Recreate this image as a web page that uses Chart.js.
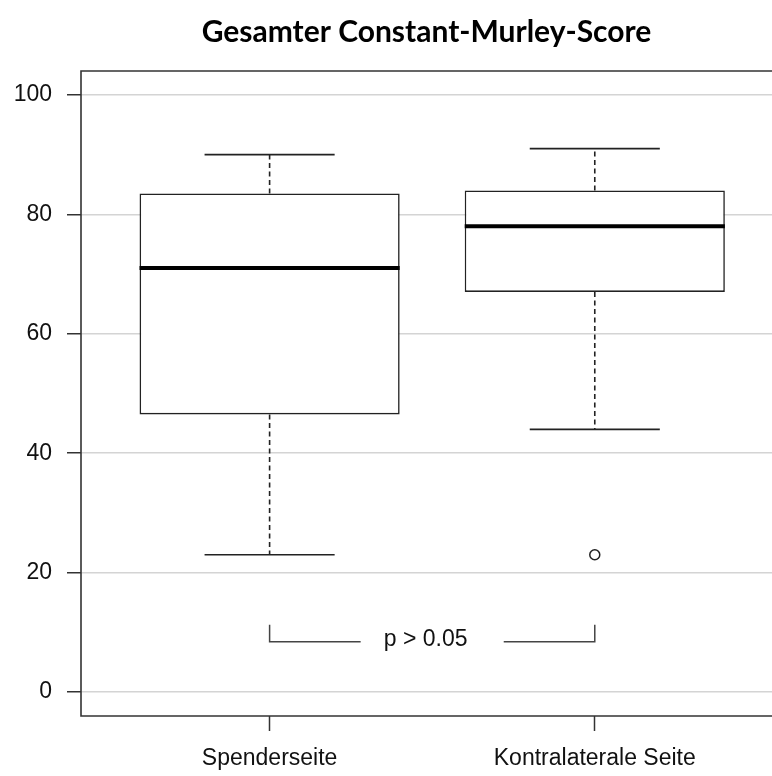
<!DOCTYPE html>
<html>
<head>
<meta charset="utf-8">
<script src="https://cdn.jsdelivr.net/npm/chart.js@4/dist/chart.umd.min.js"></script>
<style>
  html, body { margin: 0; padding: 0; background: #fff; overflow: hidden; }
</style>
</head>
<body>
<canvas id="boxChart" width="772" height="776"></canvas>
<script>
// Box plot values
const categories = ['Spenderseite', 'Kontralaterale Seite'];
const whiskerLow = [23, 44];
const q1 = [46.5, 67];
const median = [71, 78];
const q3 = [83.5, 84];
const whiskerHigh = [90, 91];
const outliers = [[], [23]];
const yTicks = [0, 20, 40, 60, 80, 100];
const pLabel = 'p > 0.05';

const ink = '#222';
const tickFont = { family: 'Liberation Sans, Arial, sans-serif', size: 23 };

// whiskers, caps, medians, frame and the p-value bracket
const boxExtras = {
    id: 'boxExtras',
    afterDatasetsDraw(chart) {
        const ctx = chart.ctx;
        const xs = chart.scales.x, ys = chart.scales.y;
        const bars = chart.getDatasetMeta(0).data;
        ctx.save();
        categories.forEach((c, i) => {
            const x = xs.getPixelForValue(i + 1);
            const hw = bars[i].width / 2;
            ctx.strokeStyle = ink;
            ctx.lineWidth = 1.6;
            // dashed whiskers
            ctx.setLineDash([5, 3.5]);
            ctx.beginPath();
            ctx.moveTo(x, ys.getPixelForValue(q3[i]));
            ctx.lineTo(x, ys.getPixelForValue(whiskerHigh[i]));
            ctx.moveTo(x, ys.getPixelForValue(q1[i]));
            ctx.lineTo(x, ys.getPixelForValue(whiskerLow[i]));
            ctx.stroke();
            ctx.setLineDash([]);
            // caps
            ctx.beginPath();
            [whiskerHigh[i], whiskerLow[i]].forEach(v => {
                const y = ys.getPixelForValue(v);
                ctx.moveTo(x - hw / 2, y);
                ctx.lineTo(x + hw / 2, y);
            });
            ctx.stroke();
            // median
            ctx.lineWidth = 4;
            ctx.strokeStyle = '#000';
            ctx.beginPath();
            const ym = ys.getPixelForValue(median[i]);
            ctx.moveTo(x - hw, ym);
            ctx.lineTo(x + hw, ym);
            ctx.stroke();
        });
        ctx.restore();
    },
    afterDraw(chart) {
        const ctx = chart.ctx;
        const a = chart.chartArea;
        const xs = chart.scales.x, ys = chart.scales.y;
        ctx.save();
        // plot frame (its right side lies outside the window)
        ctx.strokeStyle = '#333';
        ctx.lineWidth = 1.6;
        ctx.beginPath();
        ctx.moveTo(a.right + 4, a.top);
        ctx.lineTo(a.left, a.top);
        ctx.lineTo(a.left, a.bottom);
        ctx.lineTo(a.right + 4, a.bottom);
        ctx.stroke();
        // significance bracket
        const yTop = ys.getPixelForValue(11.3);
        const yLine = ys.getPixelForValue(8.45);
        const x1 = xs.getPixelForValue(1), x2 = xs.getPixelForValue(2);
        ctx.strokeStyle = '#444';
        ctx.lineWidth = 1.5;
        ctx.beginPath();
        ctx.moveTo(x1, yTop);
        ctx.lineTo(x1, yLine);
        ctx.lineTo(xs.getPixelForValue(1.28), yLine);
        ctx.moveTo(xs.getPixelForValue(1.72), yLine);
        ctx.lineTo(x2, yLine);
        ctx.lineTo(x2, yTop);
        ctx.stroke();
        ctx.fillStyle = '#111';
        ctx.font = '23px "Liberation Sans", Arial, sans-serif';
        ctx.textAlign = 'center';
        ctx.textBaseline = 'alphabetic';
        ctx.fillText(pLabel, xs.getPixelForValue(1.48), ys.getPixelForValue(7.8));
        ctx.restore();
    }
};

const ctxBox = document.getElementById('boxChart').getContext('2d');
const boxChart = new Chart(ctxBox, {
    type: 'bar',
    data: {
        datasets: [{
            type: 'bar',
            data: categories.map((c, i) => ({ x: i + 1, y: [q1[i], q3[i]] })),
            backgroundColor: '#fff',
            borderColor: ink,
            borderWidth: 1.6,
            borderSkipped: false,
            categoryPercentage: 0.8,
            barPercentage: 1.0
        }, {
            type: 'scatter',
            xAxisID: 'x',
            yAxisID: 'y',
            data: outliers.flatMap((list, i) => list.map(v => ({ x: i + 1, y: v }))),
            pointRadius: 5,
            pointBackgroundColor: '#fff',
            pointBorderColor: ink,
            pointBorderWidth: 1.5
        }]
    },
    options: {
        responsive: false,
        animation: false,
        layout: { padding: 0, autoPadding: false },
        plugins: {
            legend: { display: false },
            tooltip: { enabled: false },
            title: {
                display: true,
                text: 'Gesamter Constant-Murley-Score',
                fullSize: false,
                color: '#000',
                font: { family: 'Lato, "Open Sans", sans-serif', size: 30, weight: 'bold' },
                padding: { top: 14, bottom: 21 }
            }
        },
        scales: {
            x: {
                type: 'linear',
                min: 0.42,
                max: 2.545,
                offset: false,
                afterBuildTicks: axis => { axis.ticks = categories.map((c, i) => ({ value: i + 1 })); },
                afterFit: axis => { axis.height = 60; },
                border: { display: false },
                grid: { offset: false, drawOnChartArea: false, tickColor: '#333', tickLength: 15, tickWidth: 1.5 },
                ticks: {
                    callback: (v, idx) => categories[idx],
                    font: tickFont,
                    color: '#111',
                    padding: 14,
                    maxRotation: 0,
                    autoSkip: false
                }
            },
            y: {
                min: -4,
                max: 104,
                afterBuildTicks: axis => { axis.ticks = yTicks.map(v => ({ value: v })); },
                afterFit: axis => { axis.width = 81; },
                border: { display: false },
                grid: { color: '#d4d4d4', lineWidth: 1.5, tickColor: '#333', tickLength: 14, tickWidth: 1.5 },
                ticks: { font: tickFont, color: '#111', padding: 15 }
            }
        }
    },
    plugins: [boxExtras]
});
</script>
</body>
</html>
